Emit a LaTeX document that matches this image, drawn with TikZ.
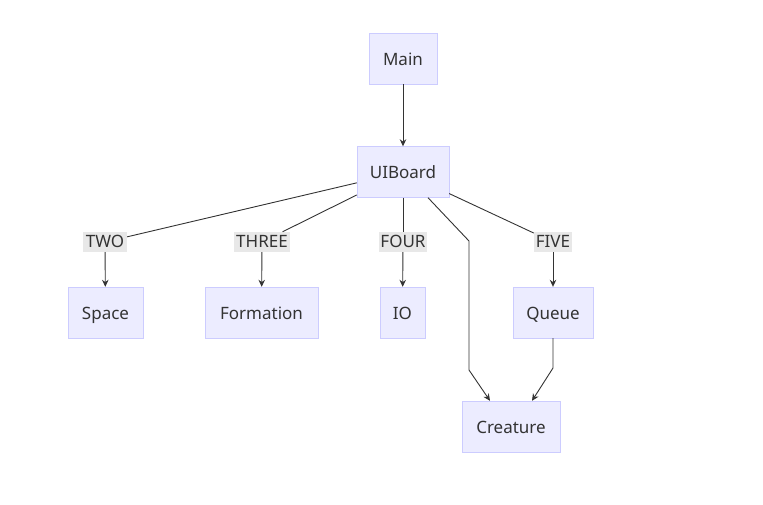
\documentclass[tikz,border=0pt]{standalone}
\usepackage{fontspec}
\setmainfont{Noto Sans}
\usepackage{xcolor}
\usetikzlibrary{arrows.meta}
\definecolor{nodefill}{HTML}{ECECFF}
\definecolor{nodeline}{HTML}{CCCCFF}
\definecolor{inkline}{HTML}{333333}
\definecolor{lblfill}{HTML}{E8E8E8}
\begin{document}
\begin{tikzpicture}[x=1pt, y=-1pt,
    box/.style={draw=nodeline, fill=nodefill, minimum height=51pt, inner sep=0pt, text height=14pt, text depth=1pt, text=inkline, font=\fontsize{17}{19}\selectfont},
    edgelbl/.style={fill=lblfill, inner sep=0pt, minimum height=20pt, text height=13pt, text depth=1.5pt, text=inkline, font=\fontsize{17}{19}\selectfont},
    link/.style={draw=inkline, line width=0.9pt, -{Stealth[length=7pt, width=6.5pt]}},
    plain/.style={draw=inkline, line width=0.9pt}
]
\useasboundingbox (0,0) rectangle (763,504);
\node[box, minimum width=68pt] (main) at (403, 58.5) {Main};
\node[box, minimum width=92pt] (ui) at (403, 172) {UIBoard};
\node[box, minimum width=75pt] (space) at (105.5, 312.5) {Space};
\node[box, minimum width=113pt] (form) at (261.5, 312.5) {Formation};
\node[box, minimum width=45pt] (io) at (402.5, 312.5) {IO};
\node[box, minimum width=80pt] (queue) at (553, 312.5) {Queue};
\node[box, minimum width=98pt] (crea) at (511, 426.5) {Creature};
\node[edgelbl, minimum width=44pt] (two) at (105, 242) {TWO};
\node[edgelbl, minimum width=56pt] (three) at (262, 242) {THREE};
\node[edgelbl, minimum width=48pt] (four) at (403, 242) {FOUR};
\node[edgelbl, minimum width=38pt] (five) at (553, 242) {FIVE};
\coordinate (bendtop) at (469, 241);
\coordinate (bendlow) at (469, 370);
\coordinate (bendq) at (553, 368);
\draw[link] (main) -- (ui);
\draw[plain] (ui) -- (two);
\draw[link] (two) -- (space);
\draw[plain] (ui) -- (three);
\draw[link] (three) -- (form);
\draw[plain] (ui) -- (four);
\draw[link] (four) -- (io);
\draw[plain] (ui) -- (five);
\draw[link] (five) -- (queue);
\draw[link] ([xshift=25pt]ui.south) -- (bendtop) -- (bendlow) -- ([xshift=-21pt]crea.north);
\draw[link] (queue) -- (bendq) -- ([xshift=21pt]crea.north);
\end{tikzpicture}
\end{document}
